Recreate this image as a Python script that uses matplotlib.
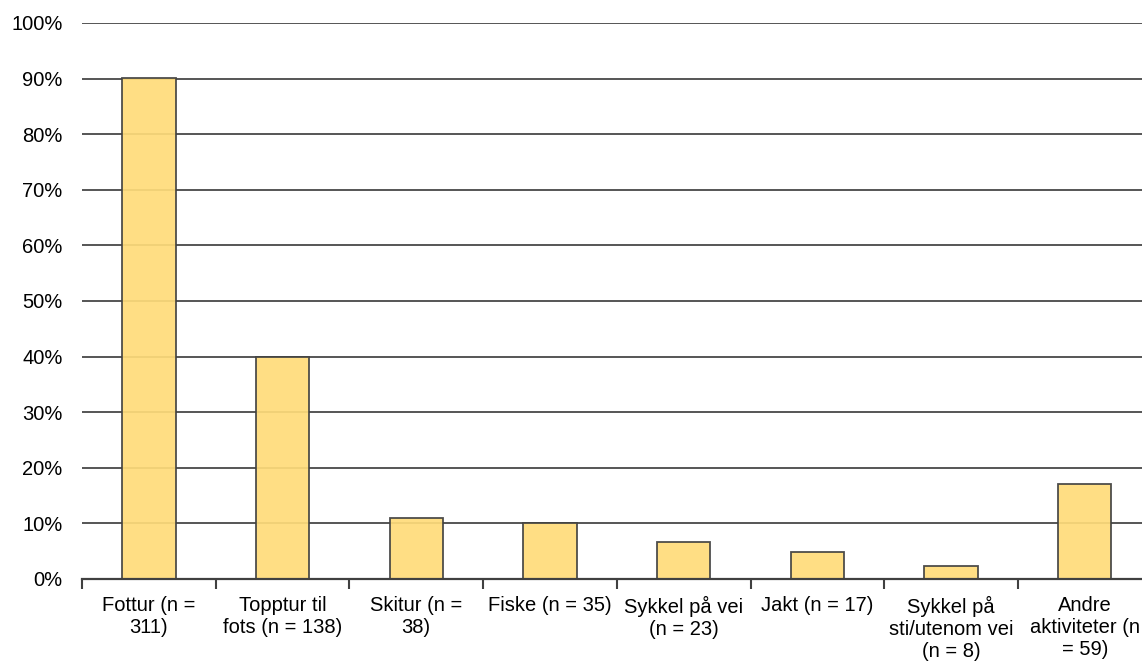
import numpy as np
import matplotlib.pyplot as plt
from matplotlib.ticker import FuncFormatter

labels = [
    "Fottur (n =\n311)",
    "Topptur til\nfots (n = 138)",
    "Skitur (n =\n38)",
    "Fiske (n = 35)",
    "Sykkel på vei\n(n = 23)",
    "Jakt (n = 17)",
    "Sykkel på\nsti/utenom vei\n(n = 8)",
    "Andre\naktiviteter (n\n= 59)",
]
values = [90.1, 40.0, 11.0, 10.1, 6.6, 4.9, 2.3, 17.1]
yticks = list(range(0, 101, 10))

plt.rcParams["font.family"] = ["Liberation Sans", "DejaVu Sans"]

fig = plt.figure(figsize=(11.42, 6.64), dpi=100)
ax = fig.add_axes([82 / 1142, 85 / 664, 8 * 133.7 / 1142, 556 / 664])

x = np.arange(len(values))
ax.bar(x, values, width=0.4, color="#FFDC7A", edgecolor="#404040",
       linewidth=1.3, alpha=0.92, zorder=3)

ax.set_xlim(-0.5, len(values) - 0.5)
ax.set_ylim(0, 100)
ax.set_yticks(yticks)
ax.yaxis.set_major_formatter(FuncFormatter(lambda v, p: f"{v:.0f}%"))
ax.tick_params(axis="y", length=0, pad=14, labelsize=14.5)

ax.set_xticks(np.arange(len(values) + 1) - 0.5)
ax.set_xticklabels([])
ax.tick_params(axis="x", which="major", length=7, width=1.5, color="#404040")
ax.set_xticks(x, minor=True)
ax.set_xticklabels(labels, minor=True, fontsize=14.5, linespacing=1.2)
ax.tick_params(axis="x", which="minor", length=0, pad=12)

ax.grid(axis="y", color="#555555", linewidth=1.4, zorder=1)
ax.set_axisbelow(True)
for s in ["top", "right", "left"]:
    ax.spines[s].set_visible(False)
ax.spines["bottom"].set_color("#404040")
ax.spines["bottom"].set_linewidth(1.6)
ax.spines["bottom"].set_zorder(4)

fig.savefig("out.png", dpi=100)
